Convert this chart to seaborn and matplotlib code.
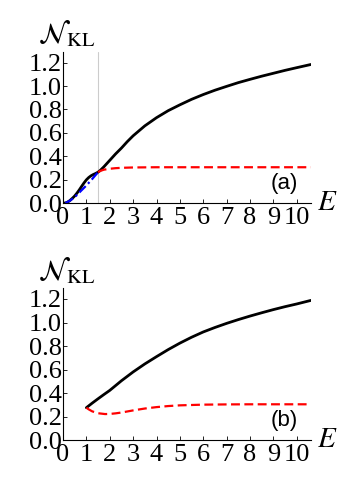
import numpy as np
import seaborn as sns
import matplotlib.pyplot as plt

# panel (a) values
e_a_black = [0.0, 0.1, 0.2, 0.3, 0.4, 0.5, 0.6, 0.7, 0.8, 0.9, 1.0, 1.1, 1.2, 1.3, 1.4, 1.5,
             1.6, 1.75, 2.0, 2.25, 2.5, 2.75, 3.0, 3.5, 4.0, 4.5, 5.0, 5.5, 6.0, 6.5, 7.0, 7.5,
             8.0, 8.5, 9.0, 9.5, 10.0, 10.6]
n_a_black = [0.0, 0.0, 0.008, 0.022, 0.04, 0.06, 0.085, 0.113, 0.143, 0.172, 0.198, 0.218, 0.233, 0.244, 0.253, 0.264,
             0.28, 0.31, 0.365, 0.42, 0.47, 0.525, 0.575, 0.66, 0.73, 0.79, 0.84, 0.887, 0.928, 0.965, 0.998, 1.03,
             1.058, 1.085, 1.11, 1.135, 1.158, 1.185]
e_a_red = [1.5, 1.6, 1.75, 2.0, 2.25, 2.5, 3.0, 3.5, 4.0, 5.0, 6.0, 8.0, 10.6]
n_a_red = [0.264, 0.275, 0.285, 0.293, 0.298, 0.301, 0.304, 0.305, 0.306, 0.306, 0.306, 0.306, 0.306]
e_a_blue = [0.1, 0.3, 0.5, 0.75, 1.0, 1.25, 1.5]
n_a_blue = [0.0, 0.02, 0.05, 0.10, 0.15, 0.205, 0.264]

# panel (b)
e_b_black = [1.0, 1.25, 1.5, 1.75, 2.0, 2.5, 3.0, 3.5, 4.0, 4.5, 5.0, 5.5, 6.0, 6.5, 7.0, 7.5,
             8.0, 8.5, 9.0, 9.5, 10.0, 10.6]
n_b_black = [0.276, 0.315, 0.352, 0.388, 0.423, 0.505, 0.58, 0.648, 0.71, 0.77, 0.825, 0.875, 0.92, 0.958, 0.993, 1.025,
             1.055, 1.083, 1.11, 1.135, 1.158, 1.188]
e_b_red = [1.0, 1.1, 1.25, 1.5, 1.8, 2.0, 2.25, 2.5, 3.0, 3.5, 4.0, 4.5, 5.0, 6.0, 7.0, 8.0, 10.6]
n_b_red = [0.276, 0.262, 0.245, 0.229, 0.222, 0.223, 0.228, 0.235, 0.253, 0.269, 0.281, 0.29, 0.296, 0.302, 0.304, 0.305, 0.305]

xticks = list(range(0, 11))
yticks = [0.0, 0.2, 0.4, 0.6, 0.8, 1.0, 1.2]

sns.set_style('ticks')
plt.rcParams['font.family'] = 'serif'
plt.rcParams['font.serif'] = ['Liberation Serif', 'DejaVu Serif']
plt.rcParams['mathtext.fontset'] = 'stix'
plt.rcParams['text.color'] = 'black'
plt.rcParams['xtick.color'] = 'black'
plt.rcParams['ytick.color'] = 'black'
plt.rcParams['axes.edgecolor'] = 'black'

fig = plt.figure(figsize=(3.64, 4.88), dpi=100)
ax_a = fig.add_axes([0.173, 0.584, 0.681, 0.309])
ax_b = fig.add_axes([0.173, 0.098, 0.681, 0.311])

curves = {
    ax_a: [(e_a_black, n_a_black, 'black', '-'),
           (e_a_red, n_a_red, 'red', (0, (4, 2))),
           (e_a_blue, n_a_blue, 'blue', (0, (4, 1.5, 1, 1.5)))],
    ax_b: [(e_b_black, n_b_black, 'black', '-'),
           (e_b_red, n_b_red, 'red', (0, (4, 2)))],
}

for ax, tag in [(ax_a, '(a)'), (ax_b, '(b)')]:
    if ax is ax_a:
        ax.axvline(1.5, color='#cccccc', lw=0.8, zorder=0)
    for x, y, c, ls in curves[ax]:
        sns.lineplot(x=x, y=y, ax=ax, color=c, linestyle=ls,
                     lw=2.0 if c == 'black' else 1.6, sort=False, estimator=None)
    ax.set_xlim(0, 10.6)
    ax.set_ylim(0, 1.29)
    ax.set_xticks(xticks)
    ax.set_yticks(yticks)
    ax.set_yticklabels([f'{v:.1f}' for v in yticks])
    ax.tick_params(direction='in', length=3, width=0.6, labelsize=19)
    ax.tick_params(axis='x', pad=3)
    ax.tick_params(axis='y', pad=1)
    for s in ['top', 'right']:
        ax.spines[s].set_visible(False)
    for s in ['left', 'bottom']:
        ax.spines[s].set_linewidth(0.8)
    ax.text(9.45, 0.17, tag, fontsize=16, family='Liberation Sans',
            ha='center', va='center')
    ax.text(1.025, 0.0, '$E$', transform=ax.transAxes, fontsize=21,
            ha='left', va='center')
    ax.text(-0.1, 1.12, r'$\mathcal{N}_{\rm KL}$', transform=ax.transAxes,
            fontsize=21, ha='left', va='center')

fig.savefig('out.png', dpi=100)
